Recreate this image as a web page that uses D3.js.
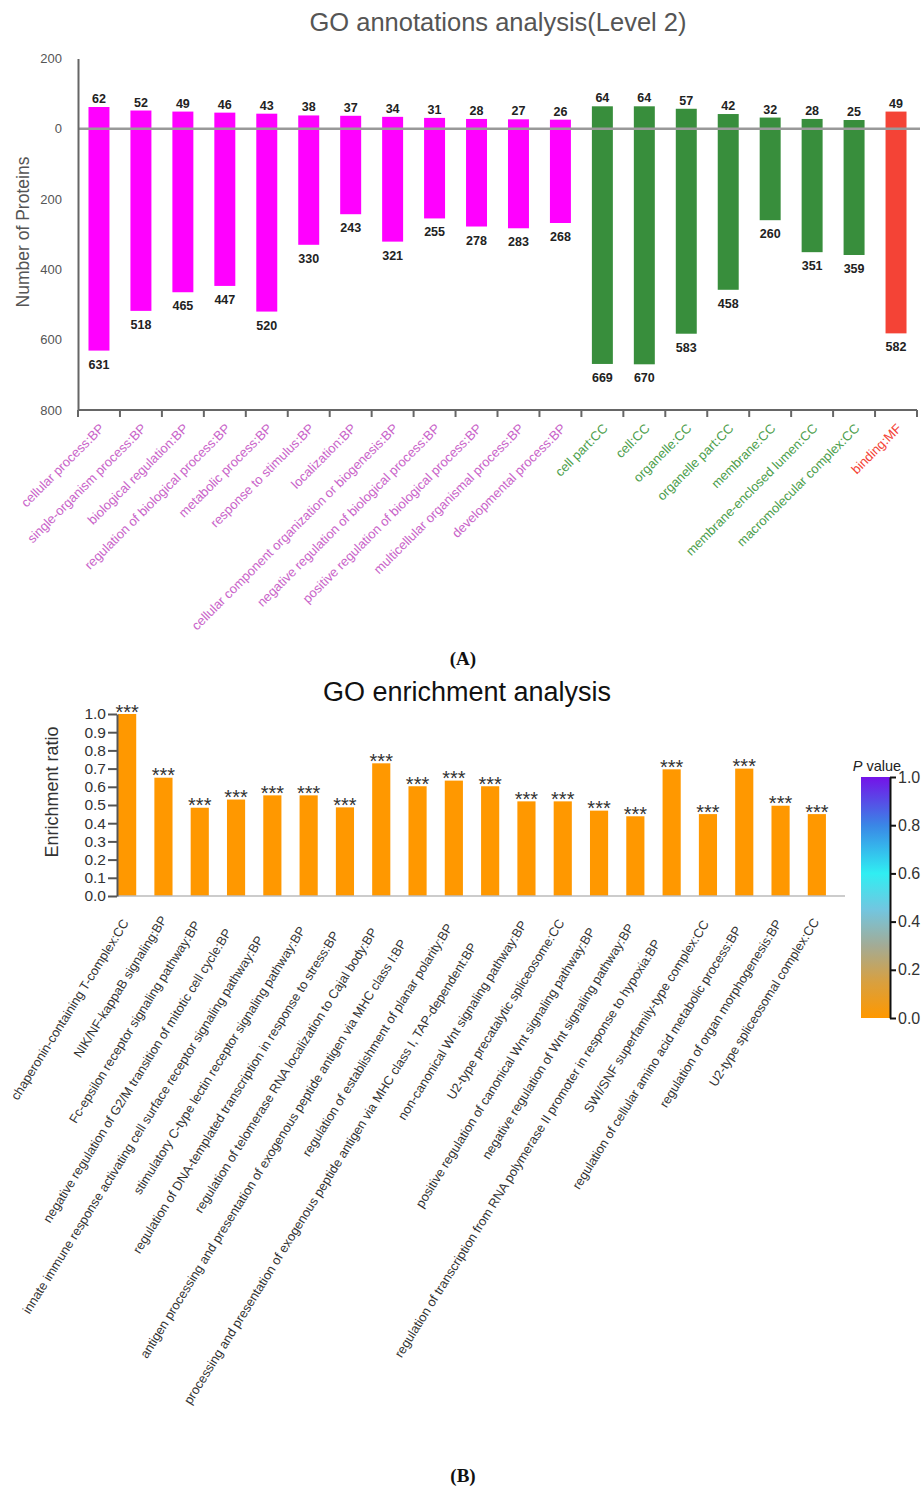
<!DOCTYPE html>
<html>
<head>
<meta charset="utf-8">
<script src="https://cdn.jsdelivr.net/npm/d3@7"></script>
<style>
  html, body { margin: 0; padding: 0; background: #fff; }
  svg { display: block; font-family: "Liberation Sans", Arial, sans-serif; }
</style>
</head>
<body>
<svg id="fig" width="922" height="1488"></svg>
<script>
// ---------- Panel A: GO annotations (Level 2) ----------
const annotTerms = [
  "cellular process:BP", "single-organism process:BP", "biological regulation:BP",
  "regulation of biological process:BP", "metabolic process:BP", "response to stimulus:BP",
  "localization:BP", "cellular component organization or biogenesis:BP",
  "negative regulation of biological process:BP", "positive regulation of biological process:BP",
  "multicellular organismal process:BP", "developmental process:BP",
  "cell part:CC", "cell:CC", "organelle:CC", "organelle part:CC", "membrane:CC",
  "membrane-enclosed lumen:CC", "macromolecular complex:CC", "binding:MF"
];
const annotOntology = ["BP","BP","BP","BP","BP","BP","BP","BP","BP","BP","BP","BP",
                       "CC","CC","CC","CC","CC","CC","CC","MF"];
const annotUp   = [62, 52, 49, 46, 43, 38, 37, 34, 31, 28, 27, 26, 64, 64, 57, 42, 32, 28, 25, 49];
const annotDown = [631, 518, 465, 447, 520, 330, 243, 321, 255, 278, 283, 268, 669, 670, 583, 458, 260, 351, 359, 582];
const annotTicks = [-200, 0, 200, 400, 600, 800];

// ---------- Panel B: GO enrichment ----------
const enrichTerms = [
  "chaperonin-containing T-complex:CC",
  "NIK/NF-kappaB signaling:BP",
  "Fc-epsilon receptor signaling pathway:BP",
  "negative regulation of G2/M transition of mitotic cell cycle:BP",
  "innate immune response activating cell surface receptor signaling pathway:BP",
  "stimulatory C-type lectin receptor signaling pathway:BP",
  "regulation of DNA-templated transcription in response to stress:BP",
  "regulation of telomerase RNA localization to Cajal body:BP",
  "antigen processing and presentation of exogenous peptide antigen via MHC class I:BP",
  "regulation of establishment of planar polarity:BP",
  "processing and presentation of exogenous peptide antigen via MHC class I, TAP-dependent:BP",
  "non-canonical Wnt signaling pathway:BP",
  "U2-type precatalytic spliceosome:CC",
  "positive regulation of canonical Wnt signaling pathway:BP",
  "negative regulation of Wnt signaling pathway:BP",
  "regulation of transcription from RNA polymerase II promoter in response to hypoxia:BP",
  "SWI/SNF superfamily-type complex:CC",
  "regulation of cellular amino acid metabolic process:BP",
  "regulation of organ morphogenesis:BP",
  "U2-type spliceosomal complex:CC"
];
const enrichRatio = [1.0, 0.65, 0.485, 0.53, 0.553, 0.553, 0.487, 0.729, 0.603, 0.634,
                     0.603, 0.52, 0.52, 0.469, 0.438, 0.696, 0.45, 0.70, 0.496, 0.45];
const enrichP = [0, 0, 0, 0, 0, 0, 0, 0, 0, 0, 0, 0, 0, 0, 0, 0, 0, 0, 0, 0];
const enrichSig = ["***","***","***","***","***","***","***","***","***","***",
                   "***","***","***","***","***","***","***","***","***","***"];
const enrichTicks = [0, 0.1, 0.2, 0.3, 0.4, 0.5, 0.6, 0.7, 0.8, 0.9, 1.0];
const pTicks = [0, 0.2, 0.4, 0.6, 0.8, 1.0];
const pStops = [
  [0.00, "#ff9800"], [0.15, "#d8a040"], [0.30, "#a3ab95"], [0.45, "#72c6e0"],
  [0.60, "#30eef2"], [0.80, "#3a86e6"], [1.00, "#7412e8"]
];

const svg = d3.select("#fig");
svg.append("rect").attr("width", 922).attr("height", 1488).attr("fill", "#fff");

// ===== Panel A =====
const ontColor = { BP: "#ff00ff", CC: "#388e3c", MF: "#f44336" };
const ontText  = { BP: "#c964c9", CC: "#4c9e4c", MF: "#f44336" };

const xA = d3.scaleBand().domain(annotTerms).range([78, 917])
  .paddingInner(0.5).paddingOuter(0.25);
const yA = d3.scaleLinear().domain([-200, 800]).range([58.5, 410]);

const gA = svg.append("g");

gA.append("text").attr("x", 498).attr("y", 31).attr("text-anchor", "middle")
  .attr("font-size", 25.5).attr("fill", "#555").text("GO annotations analysis(Level 2)");

// bars: upper part = up, lower part = down
gA.selectAll("rect.bar").data(annotTerms).join("rect")
  .attr("class", "bar")
  .attr("x", d => xA(d))
  .attr("width", xA.bandwidth())
  .attr("y", (d, i) => yA(-annotUp[i]))
  .attr("height", (d, i) => yA(annotDown[i]) - yA(-annotUp[i]))
  .attr("fill", (d, i) => ontColor[annotOntology[i]]);

// zero line
gA.append("line").attr("x1", 78).attr("x2", 920)
  .attr("y1", yA(0)).attr("y2", yA(0))
  .attr("stroke", "#999").attr("stroke-width", 2.5);

// value labels
gA.selectAll("text.up").data(annotTerms).join("text")
  .attr("class", "up")
  .attr("x", d => xA(d) + xA.bandwidth() / 2)
  .attr("y", (d, i) => yA(-annotUp[i]) - 4)
  .attr("text-anchor", "middle").attr("font-size", 12.5).attr("font-weight", "bold")
  .attr("fill", "#222").text((d, i) => annotUp[i]);
gA.selectAll("text.down").data(annotTerms).join("text")
  .attr("class", "down")
  .attr("x", d => xA(d) + xA.bandwidth() / 2)
  .attr("y", (d, i) => yA(annotDown[i]) + 18)
  .attr("text-anchor", "middle").attr("font-size", 12.5).attr("font-weight", "bold")
  .attr("fill", "#222").text((d, i) => annotDown[i]);

// y axis
const axA = gA.append("g").attr("transform", "translate(78,0)")
  .call(d3.axisLeft(yA).tickValues(annotTicks).tickSize(0).tickPadding(16)
    .tickFormat(d => Math.abs(d)));
axA.select(".domain").attr("stroke", "#666").attr("stroke-width", 2);
axA.selectAll("text").attr("font-size", 13).attr("fill", "#555")
  .attr("font-family", "Liberation Sans, Arial, sans-serif");

gA.append("text").attr("transform", "translate(29,232) rotate(-90)")
  .attr("text-anchor", "middle").attr("font-size", 17.5).attr("fill", "#555")
  .text("Number of Proteins");

// bottom axis with ticks on band boundaries
const bounds = annotTerms.map(d => xA(d) - (xA.step() - xA.bandwidth()) / 2).concat([917]);
gA.append("line").attr("x1", 78).attr("x2", 917).attr("y1", 410).attr("y2", 410)
  .attr("stroke", "#666").attr("stroke-width", 2);
gA.selectAll("line.tk").data(bounds).join("line").attr("class", "tk")
  .attr("x1", d => d).attr("x2", d => d).attr("y1", 410).attr("y2", 417)
  .attr("stroke", "#666").attr("stroke-width", 2);

gA.selectAll("text.cat").data(annotTerms).join("text").attr("class", "cat")
  .attr("transform", d => `translate(${xA(d) + xA.bandwidth() / 2 + 3},${426}) rotate(-45)`)
  .attr("text-anchor", "end").attr("dy", "0.35em").attr("font-size", 13)
  .attr("fill", (d, i) => ontText[annotOntology[i]]).text(d => d);

svg.append("text").attr("x", 463).attr("y", 665).attr("text-anchor", "middle")
  .attr("font-family", "Liberation Serif, Times New Roman, serif")
  .attr("font-weight", "bold").attr("font-size", 19).attr("fill", "#111").text("(A)");

// ===== Panel B =====
const gB = svg.append("g");
const xB = d3.scaleBand().domain(enrichTerms).range([109, 835])
  .paddingInner(0.5).paddingOuter(0.25);
const yB = d3.scaleLinear().domain([0, 1]).range([896, 714]);
const pScale = d3.scaleLinear().domain(pStops.map(s => s[0])).range(pStops.map(s => s[1]));

gB.append("text").attr("x", 467).attr("y", 701).attr("text-anchor", "middle")
  .attr("font-size", 27).attr("fill", "#111").text("GO enrichment analysis");

gB.selectAll("rect.bar").data(enrichTerms).join("rect").attr("class", "bar")
  .attr("x", d => xB(d)).attr("width", xB.bandwidth())
  .attr("y", (d, i) => yB(enrichRatio[i]))
  .attr("height", (d, i) => yB(0) - yB(enrichRatio[i]))
  .attr("fill", (d, i) => pScale(enrichP[i]));

gB.selectAll("text.sig").data(enrichTerms).join("text").attr("class", "sig")
  .attr("x", d => xB(d) + xB.bandwidth() / 2)
  .attr("y", (d, i) => yB(enrichRatio[i]) + 4.5)
  .attr("text-anchor", "middle").attr("font-size", 20).attr("fill", "#333")
  .text((d, i) => enrichSig[i]);

// baseline
gB.append("line").attr("x1", 117).attr("x2", 845).attr("y1", yB(0)).attr("y2", yB(0))
  .attr("stroke", "#bbb").attr("stroke-width", 1.5);

const axB = gB.append("g").attr("transform", "translate(117,0)")
  .call(d3.axisLeft(yB).tickValues(enrichTicks).tickSize(9).tickSizeOuter(0)
    .tickPadding(2).tickFormat(d3.format(".1f")));
axB.select(".domain").attr("stroke", "#555").attr("stroke-width", 2);
axB.selectAll(".tick line").attr("stroke", "#555").attr("stroke-width", 2);
axB.selectAll("text").attr("font-size", 15.5).attr("fill", "#333")
  .attr("font-family", "Liberation Sans, Arial, sans-serif");

gB.append("text").attr("transform", "translate(58,792) rotate(-90)")
  .attr("text-anchor", "middle").attr("font-size", 18).attr("fill", "#333")
  .text("Enrichment ratio");

// category labels: long labels are set back slightly along their baseline
const catB = gB.selectAll("text.cat").data(enrichTerms).join("text").attr("class", "cat")
  .attr("transform", d => `translate(${xB(d) + xB.bandwidth() / 2 + 1},${916}) rotate(-58)`)
  .attr("text-anchor", "end").attr("dy", "0.35em").attr("font-size", 12.8)
  .attr("fill", "#333").text(d => d);
catB.each(function () {
  const len = this.getComputedTextLength();
  d3.select(this).attr("x", -Math.max(0, 0.085 * (len - 150)));
});

// colour bar
const defs = svg.append("defs");
const grad = defs.append("linearGradient").attr("id", "pgrad")
  .attr("x1", 0).attr("y1", 1).attr("x2", 0).attr("y2", 0);
grad.selectAll("stop").data(pStops).join("stop")
  .attr("offset", d => d[0]).attr("stop-color", d => d[1]);

const yP = d3.scaleLinear().domain([0, 1]).range([1018, 777]);
gB.append("rect").attr("x", 861).attr("y", yP(1)).attr("width", 29)
  .attr("height", yP(0) - yP(1)).attr("fill", "url(#pgrad)");
const axP = gB.append("g").attr("transform", "translate(890,0)")
  .call(d3.axisRight(yP).tickValues(pTicks).tickSize(6).tickSizeOuter(0)
    .tickPadding(2).tickFormat(d3.format(".1f")));
axP.select(".domain").attr("stroke", "#111").attr("stroke-width", 2);
axP.selectAll(".tick line").attr("stroke", "#111").attr("stroke-width", 2);
axP.selectAll("text").attr("font-size", 16).attr("fill", "#333")
  .attr("font-family", "Liberation Sans, Arial, sans-serif");

const pt = gB.append("text").attr("x", 877).attr("y", 771).attr("text-anchor", "middle")
  .attr("font-size", 14.5).attr("fill", "#222");
pt.append("tspan").attr("font-style", "italic").text("P");
pt.append("tspan").text(" value");

svg.append("text").attr("x", 463).attr("y", 1482).attr("text-anchor", "middle")
  .attr("font-family", "Liberation Serif, Times New Roman, serif")
  .attr("font-weight", "bold").attr("font-size", 19).attr("fill", "#111").text("(B)");
</script>
</body>
</html>
